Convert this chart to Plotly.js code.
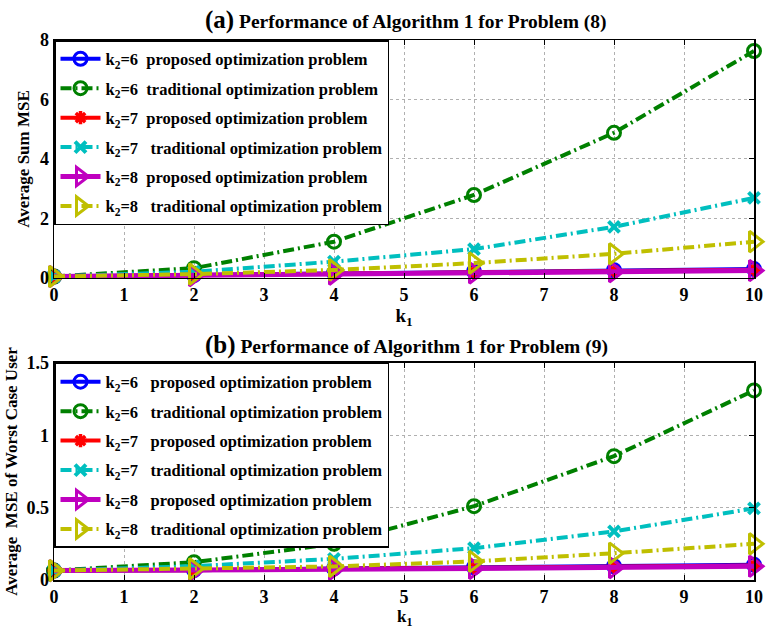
<!DOCTYPE html>
<html>
<head>
<meta charset="utf-8">
<script src="https://cdn.plot.ly/plotly-3.0.1.min.js"></script>
<style>body{margin:0;padding:0;background:#fff;}#chart{width:767px;height:630px;}</style>
</head>
<body>
<div id="chart"></div>
<script>
// ---- data ----
const k1 = [0, 2, 4, 6, 8, 10];
const xTicks = [0,1,2,3,4,5,6,7,8,9,10];

// (a) Average Sum MSE
const sumProp6 = [0.05, 0.10, 0.17, 0.22, 0.26, 0.30];
const sumTrad6 = [0.05, 0.33, 1.22, 2.79, 4.88, 7.63];
const sumProp7 = [0.05, 0.09, 0.15, 0.20, 0.24, 0.28];
const sumTrad7 = [0.05, 0.21, 0.55, 0.97, 1.72, 2.69];
const sumProp8 = [0.05, 0.08, 0.13, 0.17, 0.21, 0.25];
const sumTrad8 = [0.05, 0.13, 0.27, 0.50, 0.81, 1.22];

// (b) Average MSE of Worst Case User
const worstProp6 = [0.065, 0.068, 0.080, 0.088, 0.095, 0.105];
const worstTrad6 = [0.065, 0.123, 0.250, 0.510, 0.856, 1.310];
const worstProp7 = [0.065, 0.067, 0.078, 0.085, 0.090, 0.100];
const worstTrad7 = [0.065, 0.096, 0.146, 0.220, 0.336, 0.495];
const worstProp8 = [0.065, 0.066, 0.074, 0.080, 0.085, 0.095];
const worstTrad8 = [0.065, 0.077, 0.094, 0.128, 0.185, 0.250];

const seriesNames = [
  'k<sub>2</sub>=6\u00a0\u00a0proposed optimization problem',
  'k<sub>2</sub>=6\u00a0\u00a0traditional optimization problem',
  'k<sub>2</sub>=7\u00a0\u00a0proposed optimization problem',
  'k<sub>2</sub>=7\u00a0\u00a0\u00a0traditional optimization problem',
  'k<sub>2</sub>=8\u00a0\u00a0proposed optimization problem',
  'k<sub>2</sub>=8\u00a0\u00a0\u00a0traditional optimization problem'
];
const seriesNamesB = [
  'k<sub>2</sub>=6\u00a0\u00a0\u00a0proposed optimization problem',
  'k<sub>2</sub>=6\u00a0\u00a0\u00a0traditional optimization problem',
  'k<sub>2</sub>=7\u00a0\u00a0\u00a0proposed optimization problem',
  'k<sub>2</sub>=7\u00a0\u00a0\u00a0traditional optimization problem',
  'k<sub>2</sub>=8\u00a0\u00a0\u00a0proposed optimization problem',
  'k<sub>2</sub>=8\u00a0\u00a0\u00a0traditional optimization problem'
];

// ---- styles ----
const DASH = '11px,4px,2px,4px';
const styles = [
  {color:'#0000ff', dash:'solid', width:4, symbol:'circle-open', size:13, mlw:3},
  {color:'#008000', dash:DASH, width:4, symbol:'circle-open', size:13, mlw:3},
  {color:'#ff0000', dash:'solid', width:4, symbol:'asterisk-open', size:11, mlw:3.5},
  {color:'#00bfbf', dash:DASH, width:4, symbol:'x-thin-open', size:11, mlw:4},
  {color:'#bf00bf', dash:'solid', width:5, symbol:'triangle-right-open', size:18, mlw:3},
  {color:'#bfbf00', dash:DASH, width:4, symbol:'triangle-right-open', size:18, mlw:3}
];

const dataA = [sumProp6, sumTrad6, sumProp7, sumTrad7, sumProp8, sumTrad8];
const dataB = [worstProp6, worstTrad6, worstProp7, worstTrad7, worstProp8, worstTrad8];

const traces = [];
dataA.forEach((ys, i) => {
  const s = styles[i];
  traces.push({
    x: k1, y: ys, xaxis:'x', yaxis:'y', legend:'legend',
    name: seriesNames[i], legendgroup:'a'+i,
    mode:'lines+markers', cliponaxis:false,
    line:{color:s.color, width:s.width, dash:s.dash},
    marker:{symbol:s.symbol, size:s.size, color:s.color, line:{color:s.color, width:s.mlw}}
  });
});
dataB.forEach((ys, i) => {
  const s = styles[i];
  traces.push({
    x: k1, y: ys, xaxis:'x2', yaxis:'y2', legend:'legend2',
    name: seriesNamesB[i], legendgroup:'b'+i,
    mode:'lines+markers', cliponaxis:false,
    line:{color:s.color, width:s.width, dash:s.dash},
    marker:{symbol:s.symbol, size:s.size, color:s.color, line:{color:s.color, width:s.mlw}}
  });
});

const FONT = 'Liberation Serif, Times New Roman, serif';
const axisCommon = {
  showline:true, linecolor:'#000', linewidth:1.5, mirror:'ticks',
  ticks:'inside', ticklen:5, tickcolor:'#000', tickwidth:1,
  showgrid:true, gridcolor:'#b0b0b0', griddash:'dot', gridwidth:1,
  zeroline:false,
  tickfont:{family:FONT, size:18, color:'#000', weight:'bold'}
};

const legendCommon = {
  xref:'paper', yref:'paper', x:0, xanchor:'left', yanchor:'top',
  bgcolor:'#fff', bordercolor:'#000', borderwidth:1.5,
  font:{family:FONT, size:16.5, color:'#000', weight:'bold'},
  itemwidth:40, tracegroupgap:5, traceorder:'grouped'
};

const layout = {
  width:767, height:630,
  margin:{l:54, r:13, t:40, b:50},
  paper_bgcolor:'#fff', plot_bgcolor:'#fff',
  font:{family:FONT, color:'#000', weight:'bold'},
  showlegend:true,
  xaxis:Object.assign({}, axisCommon, {
    domain:[0,1], anchor:'y', range:[0,10], tickvals:xTicks,
    title:{text:'k<sub>1</sub>', font:{family:FONT, size:19, weight:'bold'}, standoff:2}
  }),
  yaxis:Object.assign({}, axisCommon, {
    domain:[0.5593,1], anchor:'x', range:[0,8], tickvals:[0,2,4,6,8],
    title:{text:'Average Sum MSE', font:{family:FONT, size:17, weight:'bold'}, standoff:6}
  }),
  xaxis2:Object.assign({}, axisCommon, {
    domain:[0,1], anchor:'y2', range:[0,10], tickvals:xTicks
  }),
  yaxis2:Object.assign({}, axisCommon, {
    domain:[0,0.4019], anchor:'x2', range:[0,1.5], tickvals:[0,0.5,1,1.5], ticktext:['0','0.5','1','1.5'],
    title:{text:'Average\u00a0\u00a0MSE of Worst Case User', font:{family:FONT, size:17, weight:'bold'}, standoff:4}
  }),
  legend:Object.assign({}, legendCommon, {y:1}),
  legend2:Object.assign({}, legendCommon, {y:0.4019}),
  annotations:[
    {xref:'paper', yref:'paper', x:0.503, y:1.037, xanchor:'center', yanchor:'middle', showarrow:false,
     text:'<span style="font-size:25px">(a)</span> Performance of Algorithm 1 for Problem (8)',
     font:{family:FONT, size:19.5, color:'#000', weight:'bold'}},
    {xref:'paper', yref:'paper', x:0.503, y:0.4352, xanchor:'center', yanchor:'middle', showarrow:false,
     text:'<span style="font-size:25px">(b)</span> Performance of Algorithm 1 for Problem (9)',
     font:{family:FONT, size:19.5, color:'#000', weight:'bold'}},
    {xref:'paper', yref:'paper', x:0.5, y:-0.0926, xanchor:'center', yanchor:'bottom', showarrow:false,
     borderpad:0, text:'k<sub>1</sub>',
     font:{family:FONT, size:17, color:'#000', weight:'bold'}}
  ]
};

Plotly.newPlot('chart', traces, layout, {displayModeBar:false, staticPlot:true});
</script>
</body>
</html>
